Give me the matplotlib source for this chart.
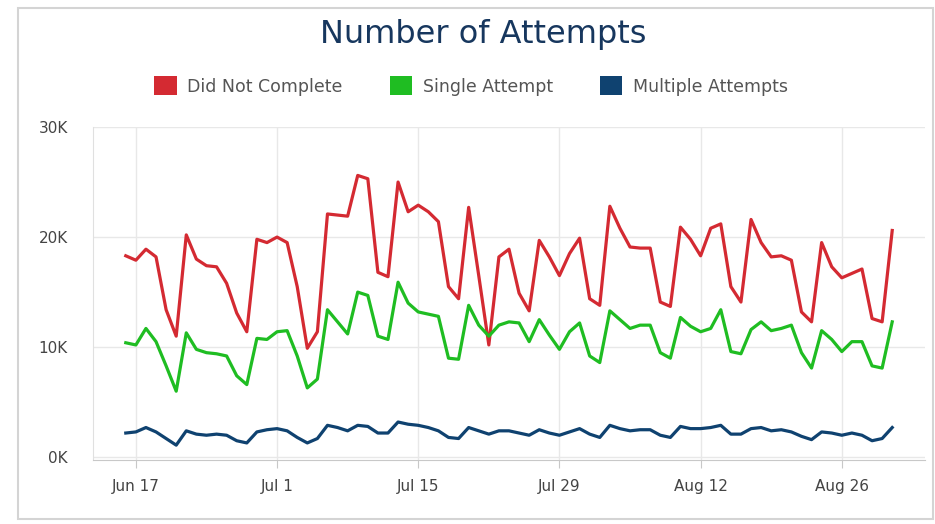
import matplotlib
matplotlib.use("Agg")
import matplotlib.pyplot as plt
import matplotlib.dates as mdates
from matplotlib.patches import Patch, Rectangle
from matplotlib.ticker import FuncFormatter, FixedLocator
import pandas as pd

# daily values, Jun 16 - Aug 31 (thousands)
dates = pd.date_range("2019-06-16", "2019-08-31", freq="D")

did_not_complete = [
    18.3, 17.9, 18.9, 18.2, 13.4, 11.0, 20.2, 18.0, 17.4, 17.3, 15.8, 13.1, 11.4,
    19.8, 19.5, 20.0, 19.5, 15.5, 9.9, 11.4, 22.1, 22.0, 21.9, 25.6, 25.3, 16.8,
    16.4, 25.0, 22.3, 22.9, 22.3, 21.4, 15.5, 14.4, 22.7, 16.5, 10.2, 18.2, 18.9,
    14.9, 13.3, 19.7, 18.2, 16.5, 18.5, 19.9, 14.4, 13.8, 22.8, 20.8, 19.1, 19.0,
    19.0, 14.1, 13.7, 20.9, 19.8, 18.3, 20.8, 21.2, 15.5, 14.1, 21.6, 19.5, 18.2,
    18.3, 17.9, 13.2, 12.3, 19.5, 17.3, 16.3, 16.7, 17.1, 12.6, 12.3, 20.6,
]
single_attempt = [
    10.4, 10.2, 11.7, 10.5, 8.3, 6.0, 11.3, 9.8, 9.5, 9.4, 9.2, 7.4, 6.6,
    10.8, 10.7, 11.4, 11.5, 9.2, 6.3, 7.1, 13.4, 12.3, 11.2, 15.0, 14.7, 11.0,
    10.7, 15.9, 14.0, 13.2, 13.0, 12.8, 9.0, 8.9, 13.8, 12.0, 11.0, 12.0, 12.3,
    12.2, 10.5, 12.5, 11.1, 9.8, 11.4, 12.2, 9.2, 8.6, 13.3, 12.5, 11.7, 12.0,
    12.0, 9.5, 9.0, 12.7, 11.9, 11.4, 11.7, 13.4, 9.6, 9.4, 11.6, 12.3, 11.5,
    11.7, 12.0, 9.5, 8.1, 11.5, 10.7, 9.6, 10.5, 10.5, 8.3, 8.1, 12.3,
]
multiple_attempts = [
    2.2, 2.3, 2.7, 2.3, 1.7, 1.1, 2.4, 2.1, 2.0, 2.1, 2.0, 1.5, 1.3,
    2.3, 2.5, 2.6, 2.4, 1.8, 1.3, 1.7, 2.9, 2.7, 2.4, 2.9, 2.8, 2.2,
    2.2, 3.2, 3.0, 2.9, 2.7, 2.4, 1.8, 1.7, 2.7, 2.4, 2.1, 2.4, 2.4,
    2.2, 2.0, 2.5, 2.2, 2.0, 2.3, 2.6, 2.1, 1.8, 2.9, 2.6, 2.4, 2.5,
    2.5, 2.0, 1.8, 2.8, 2.6, 2.6, 2.7, 2.9, 2.1, 2.1, 2.6, 2.7, 2.4,
    2.5, 2.3, 1.9, 1.6, 2.3, 2.2, 2.0, 2.2, 2.0, 1.5, 1.7, 2.7,
]

series_names = ["Did Not Complete", "Single Attempt", "Multiple Attempts"]
colors = ["#d42a32", "#1fbd22", "#0f4270"]
tick_dates = pd.to_datetime(["2019-06-17", "2019-07-01", "2019-07-15",
                             "2019-07-29", "2019-08-12", "2019-08-26"])
y_ticks = [0, 10000, 20000, 30000]

fig = plt.figure(figsize=(9.35, 5.24), dpi=100)
ax = fig.add_axes([93 / 935, 1 - 460 / 524, (925 - 93) / 935, (460 - 127) / 524])

# outer panel border
fig.patches.append(Rectangle((18 / 935, 1 - 519 / 524), (933 - 18) / 935, (519 - 8) / 524,
                             transform=fig.transFigure, fill=False,
                             edgecolor="#d4d4d4", linewidth=1.5))

for vals, col in zip([did_not_complete, single_attempt, multiple_attempts], colors):
    ax.plot(dates, [v * 1000 for v in vals], color=col, linewidth=2.3, solid_joinstyle="round")

ax.set_xlim(pd.Timestamp("2019-06-12 18:00"), pd.Timestamp("2019-09-03 06:00"))
ax.set_ylim(-250, 30000)

ax.xaxis.set_major_locator(FixedLocator(mdates.date2num(tick_dates)))
ax.xaxis.set_major_formatter(FuncFormatter(
    lambda v, p: "{:%b} {}".format(mdates.num2date(v), mdates.num2date(v).day)))
ax.yaxis.set_major_locator(FixedLocator(y_ticks))
ax.yaxis.set_major_formatter(FuncFormatter(lambda v, p: "{}K".format(int(v / 1000))))

ax.grid(True, color="#e8e8e8", linewidth=1)
ax.set_axisbelow(True)
for side in ["top", "right"]:
    ax.spines[side].set_visible(False)
ax.spines["left"].set_color("#e0e0e0")
ax.spines["bottom"].set_color("#c8c8c8")
ax.tick_params(axis="x", colors="#c8c8c8", labelcolor="#444444", labelsize=11,
               length=6, pad=8)
ax.tick_params(axis="y", length=0, labelcolor="#444444", labelsize=11, pad=18)

fig.text(483 / 935, 1 - 35 / 524, "Number of Attempts", ha="center", va="center",
         fontsize=23, color="#17375e")

handles = [Patch(facecolor=c, edgecolor="none") for c in colors]
fig.legend(handles, series_names, loc="center", bbox_to_anchor=(471 / 935, 1 - 86 / 524),
           ncol=3, frameon=False, fontsize=12.5, labelcolor="#555555",
           handlelength=1.3, handleheight=1.3, handletextpad=0.6, columnspacing=2.7)

fig.savefig("out.png", dpi=100)
